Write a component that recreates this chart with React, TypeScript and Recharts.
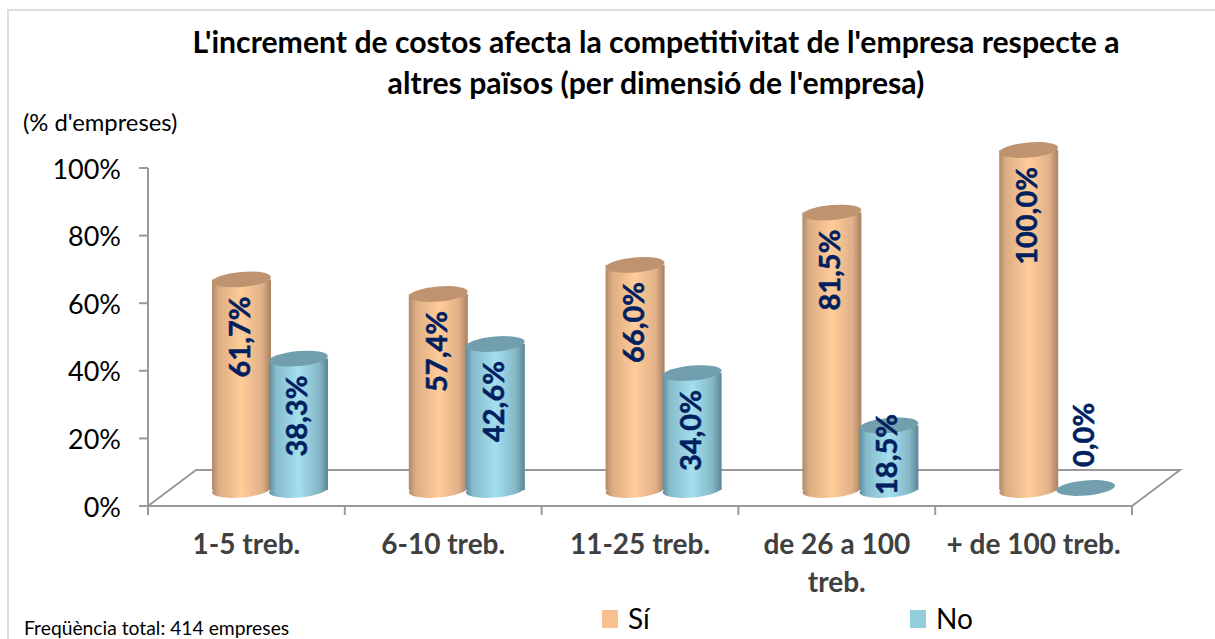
import React from "react";
import { ComposedChart, Bar, XAxis, YAxis, LabelList, usePlotArea } from "recharts";

const categories = ["1-5 treb.", "6-10 treb.", "11-25 treb.", "de 26 a 100 treb.", "+ de 100 treb."];
const siValues = [61.7, 57.4, 66.0, 81.5, 100.0];
const noValues = [38.3, 42.6, 34.0, 18.5, 0.0];
const yTicks = [0, 20, 40, 60, 80, 100];
const titleLines = ["L'increment de costos afecta la competitivitat de l'empresa respecte a", "altres països (per dimensió de l'empresa)"];
const seriesNames = ["Sí", "No"];
const unitText = "(% d'empreses)";
const footerText = "Freqüència total: 414 empreses";

const data = categories.map((name, i) => ({ name, si: siValues[i], no: noValues[i] }));

const FONT = "Lato, 'Open Sans', sans-serif";
const W = 1215, H = 639;
const AXIS = "#9a9a9a";
const DX = 24, DY = -18, RY = 7.5, TILT = -5;

function cylinder(id: string, top: string) {
  return (props: any) => {
    const { x, y, width, height } = props;
    const left = x + DX, cx = left + width / 2, topY = y + DY, botY = topY + height;
    const rx = width / 2;
    if (height <= 0.5) {
      return <ellipse cx={cx} cy={botY} rx={rx} ry={RY} fill={top} transform={`rotate(${TILT} ${cx} ${botY})`} />;
    }
    return (
      <g>
        <ellipse cx={cx} cy={botY + 2} rx={rx} ry={RY} fill={`url(#${id})`} transform={`rotate(${TILT} ${cx} ${botY + 2})`} />
        <rect x={left} y={topY} width={width} height={height + 2} fill={`url(#${id})`} />
        <ellipse cx={cx} cy={topY} rx={rx} ry={RY} fill={top} transform={`rotate(${TILT} ${cx} ${topY})`} />
      </g>
    );
  };
}

function valueLabel(props: any) {
  const { x, y, width, height, value } = props;
  const cx = x + DX + width / 2 - 3;
  const topY = y + DY, botY = topY + height;
  let ly = topY + 17, anchor: "end" | "start" = "end";
  if (value === 0) { ly = botY - 21; anchor = "start"; }
  else if (height < 90) { ly = botY + 7; anchor = "start"; }
  return (
    <text x={cx} y={ly} transform={`rotate(-90 ${cx} ${ly})`} textAnchor={anchor} dominantBaseline="central"
      fill="#002060" stroke="#002060" strokeWidth={0.5} fontFamily={FONT} fontWeight={700} fontSize={29}>
      {String(value.toFixed(1)).replace(".", ",") + "%"}
    </text>
  );
}

function Floor() {
  const p = usePlotArea();
  if (!p) return null;
  const bottom = p.y + p.height, right = p.x + p.width;
  const band = p.width / categories.length;
  const dx = 48, dy = 36;
  return (
    <g fill="none" stroke={AXIS} strokeWidth={2}>
      <polyline points={`${p.x},${bottom} ${p.x + dx},${bottom - dy} ${right + dx},${bottom - dy} ${right},${bottom}`} />
      <line x1={p.x} x2={right} y1={bottom} y2={bottom} />
      {categories.concat("").map((_, i) => (
        <line key={i} x1={p.x + band * i} x2={p.x + band * i} y1={bottom} y2={bottom + 9} />
      ))}
    </g>
  );
}

function wrapWords(label: string, limit: number) {
  const lines: string[] = [];
  for (const word of label.split(" ")) {
    const last = lines[lines.length - 1];
    if (last !== undefined && (last + " " + word).length <= limit) lines[lines.length - 1] = last + " " + word;
    else lines.push(word);
  }
  return lines;
}

function CatTick(props: any) {
  const { x, y, payload } = props;
  return (
    <text x={x} y={y + 40} textAnchor="middle" fontFamily={FONT} fontWeight={700} fontSize={28} fill="#404040">
      {wrapWords(payload.value, 14).map((line, i) => (
        <tspan key={i} x={x} dy={i === 0 ? 0 : 38}>{line}</tspan>
      ))}
    </text>
  );
}

function Legendish() {
  const swatches = [{ x: 602, c: "#FAC090" }, { x: 910, c: "#92CDDC" }];
  return (
    <g>
      {swatches.map((s, i) => (
        <g key={i}>
          <rect x={s.x} y={610} width={16} height={18} fill={s.c} />
          <text x={s.x + 26} y={629} fontFamily={FONT} fontSize={28} fill="#000">{seriesNames[i]}</text>
        </g>
      ))}
    </g>
  );
}

export default function App() {
  return (
    <div style={{ position: "absolute", left: 0, top: 0, width: W, height: H, background: "#fff" }}>
      <ComposedChart width={W} height={H} data={data} barSize={59} barGap={-2} barCategoryGap={0}
        margin={{ top: 168, right: 83, bottom: 0, left: 0 }}>
        <defs>
          <linearGradient id="gSi" x1="0" x2="1" y1="0" y2="0">
            <stop offset="0" stopColor="#B08A66" />
            <stop offset="0.12" stopColor="#DDAE84" />
            <stop offset="0.5" stopColor="#FFCC99" />
            <stop offset="0.85" stopColor="#E0B088" />
            <stop offset="1" stopColor="#A8815F" />
          </linearGradient>
          <linearGradient id="gNo" x1="0" x2="1" y1="0" y2="0">
            <stop offset="0" stopColor="#5F8C9C" />
            <stop offset="0.12" stopColor="#86BCCB" />
            <stop offset="0.5" stopColor="#A3DFF0" />
            <stop offset="0.85" stopColor="#85B7C6" />
            <stop offset="1" stopColor="#5A8594" />
          </linearGradient>
        </defs>
        <rect x={8} y={10} width={1300} height={700} fill="none" stroke="#dcdcdc" strokeWidth={2} />
        <Floor />
        <XAxis dataKey="name" interval={0} tickLine={false} axisLine={false} tick={<CatTick />} height={133} />
        <YAxis domain={[0, 100]} ticks={yTicks} width={148} tickFormatter={(v: number) => v + "%"}
          stroke={AXIS} strokeWidth={2} tickSize={9} tickMargin={18}
          tick={{ fontFamily: FONT, fontSize: 27, fill: "#000", dy: 1 }} />
        <Bar dataKey="si" name={seriesNames[0]} shape={cylinder("gSi", "#BF9370")} isAnimationActive={false}>
          <LabelList dataKey="si" content={valueLabel} />
        </Bar>
        <Bar dataKey="no" name={seriesNames[1]} shape={cylinder("gNo", "#729FAD")} isAnimationActive={false}>
          <LabelList dataKey="no" content={valueLabel} />
        </Bar>
        {titleLines.map((t, i) => (
          <text key={i} x={656} y={53 + i * 41} textAnchor="middle" fontFamily={FONT} fontWeight={700} fontSize={30.2} fill="#000">{t}</text>
        ))}
        <text x={23} y={131} fontFamily={FONT} fontSize={23.8} fill="#000">{unitText}</text>
        <text x={24} y={635} fontFamily={FONT} fontSize={19.3} fill="#000">{footerText}</text>
        <Legendish />
      </ComposedChart>
    </div>
  );
}
